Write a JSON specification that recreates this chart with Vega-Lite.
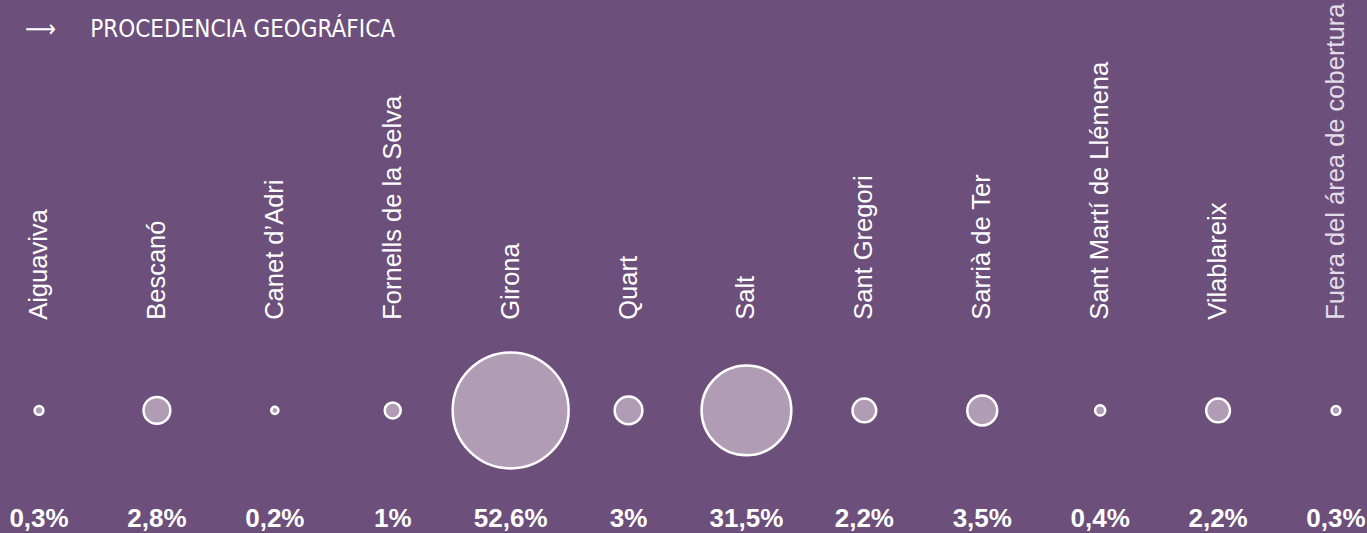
{
  "$schema": "https://vega.github.io/schema/vega-lite/v6.json",
  "width": 1367,
  "height": 533,
  "autosize": {"type": "none"},
  "padding": 0,
  "background": "#6c4f7b",
  "config": {"view": {"stroke": null}},
  "title": {
    "text": "⟶\u00a0\u00a0\u00a0\u00a0\u00a0PROCEDENCIA GEOGRÁFICA",
    "anchor": "start",
    "frame": "group",
    "font": "DejaVu Sans Condensed, DejaVu Sans",
    "fontSize": 24,
    "fontWeight": "normal",
    "color": "white",
    "baseline": "alphabetic",
    "dx": 25,
    "dy": 61,
    "offset": 0
  },
  "data": {
    "values": [
      {"name": "Aiguaviva", "pct": 0.3, "label": "0,3%"},
      {"name": "Bescanó", "pct": 2.8, "label": "2,8%"},
      {"name": "Canet d’Adri", "pct": 0.2, "label": "0,2%"},
      {"name": "Fornells de la Selva", "pct": 1, "label": "1%"},
      {"name": "Girona", "pct": 52.6, "label": "52,6%"},
      {"name": "Quart", "pct": 3, "label": "3%"},
      {"name": "Salt", "pct": 31.5, "label": "31,5%"},
      {"name": "Sant Gregori", "pct": 2.2, "label": "2,2%"},
      {"name": "Sarrià de Ter", "pct": 3.5, "label": "3,5%"},
      {"name": "Sant Martí de Llémena", "pct": 0.4, "label": "0,4%"},
      {"name": "Vilablareix", "pct": 2.2, "label": "2,2%"},
      {"name": "Fuera del área de cobertura", "pct": 0.3, "label": "0,3%"}
    ]
  },
  "encoding": {
    "x": {
      "field": "name",
      "type": "nominal",
      "sort": null,
      "scale": {"type": "point", "padding": 0.297, "align": 0.557},
      "axis": null
    }
  },
  "layer": [
    {
      "mark": {"type": "text", "angle": 270, "align": "left", "baseline": "middle", "font": "Liberation Sans", "fontSize": 25.5},
      "encoding": {
        "y": {"datum": 40, "type": "quantitative", "scale": {"domain": [0, 100]}, "axis": null},
        "text": {"field": "name"},
        "color": {
          "condition": {"test": "datum.name === 'Fuera del área de cobertura'", "value": "#e4dce8"},
          "value": "white"
        }
      }
    },
    {
      "mark": {"type": "point", "shape": "circle", "filled": true, "fill": "#b09cb5", "stroke": "white", "strokeWidth": 2.5, "opacity": 1, "fillOpacity": 1, "strokeOpacity": 1},
      "encoding": {
        "y": {"datum": 23, "type": "quantitative"},
        "size": {"field": "pct", "type": "quantitative", "scale": {"domain": [0, 52.6], "range": [0, 13456]}, "legend": null}
      }
    },
    {
      "mark": {"type": "text", "font": "Liberation Sans", "fontWeight": "bold", "fontSize": 26, "color": "white", "baseline": "alphabetic"},
      "encoding": {
        "y": {"datum": 1.1, "type": "quantitative"},
        "text": {"field": "label"}
      }
    }
  ]
}
